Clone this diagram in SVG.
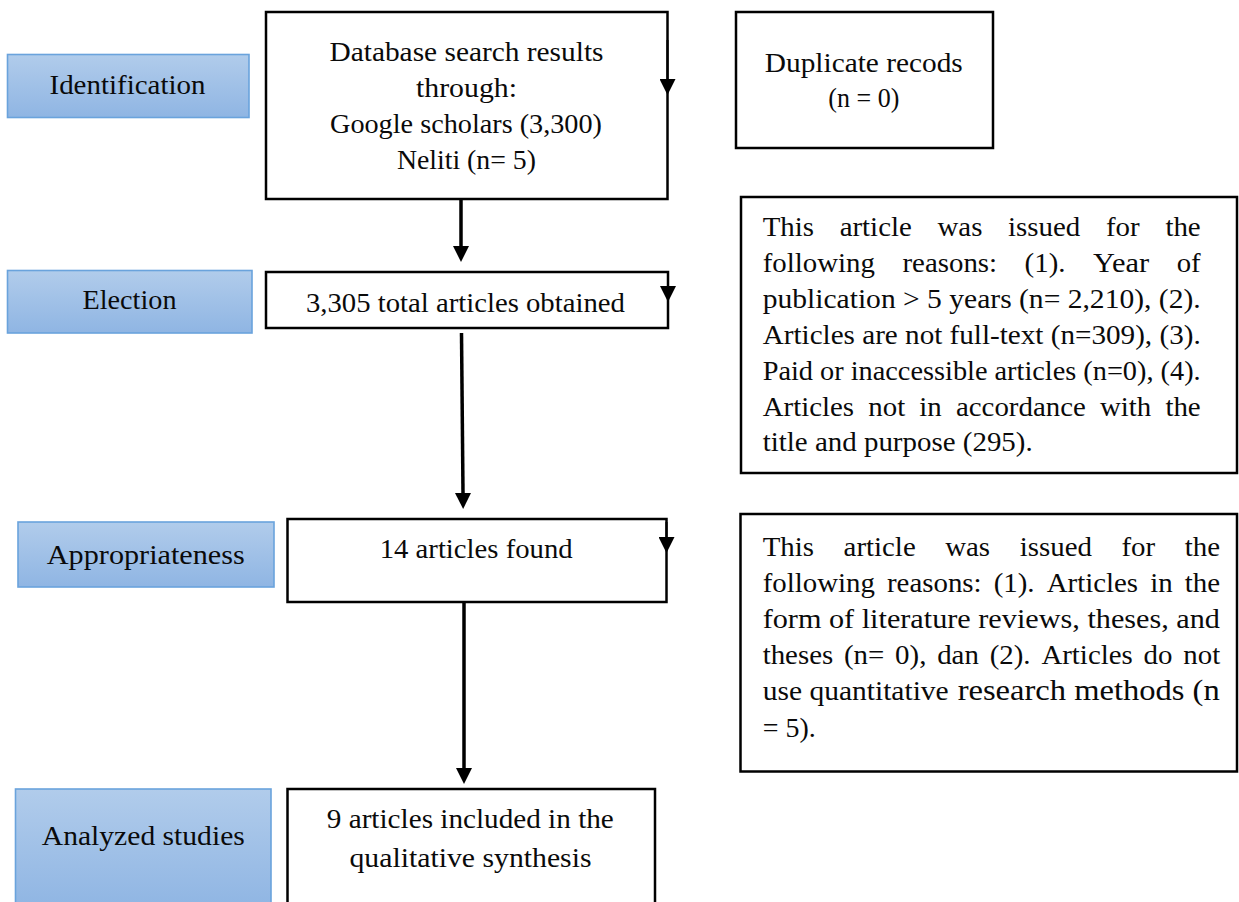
<svg xmlns="http://www.w3.org/2000/svg" width="1239" height="902" viewBox="0 0 1239 902">
<defs>
<linearGradient id="blue" x1="0" y1="0" x2="0" y2="1">
<stop offset="0" stop-color="#b1cceb"/>
<stop offset="1" stop-color="#8fb5e3"/>
</linearGradient>
<marker id="ah" viewBox="0 0 16 16" refX="0" refY="8" markerWidth="16" markerHeight="16" markerUnits="userSpaceOnUse" orient="auto">
<path d="M0,0 L16,8 L0,16 Z" fill="#000"/>
</marker>
</defs>
<style>
.lab{fill:url(#blue);stroke:#6aa3dc;stroke-width:1.6}
.box{fill:#fff;stroke:#000;stroke-width:2.5}
text{font-family:"Liberation Serif","Times New Roman",serif;font-size:27.5px;fill:#0a0a0a}
.c{text-anchor:middle}
.conn{fill:none;stroke:#000;stroke-width:3.5}
.edge{fill:none;stroke:#000;stroke-width:2}
</style>

<g id="label-identification">
<rect class="lab" x="7.5" y="54.5" width="241.5" height="63"/>
<text class="c" x="127.5" y="94" textLength="156" lengthAdjust="spacingAndGlyphs">Identification</text>
</g>
<g id="label-election">
<rect class="lab" x="7.5" y="270.5" width="244.5" height="62.5"/>
<text class="c" x="129.5" y="308.5" textLength="94" lengthAdjust="spacingAndGlyphs">Election</text>
</g>
<g id="label-appropriateness">
<rect class="lab" x="18" y="522" width="256" height="65"/>
<text class="c" x="145.8" y="564" textLength="198" lengthAdjust="spacingAndGlyphs">Appropriateness</text>
</g>
<g id="label-analyzed">
<rect class="lab" x="15.5" y="789" width="255.5" height="120"/>
<text class="c" x="143.3" y="845" textLength="203" lengthAdjust="spacingAndGlyphs">Analyzed studies</text>
</g>

<g id="node-search">
<rect class="box" x="266" y="12" width="401.5" height="187"/>
<text class="c" x="466.5" y="61" textLength="274" lengthAdjust="spacingAndGlyphs">Database search results</text>
<text class="c" x="466.5" y="97" textLength="101" lengthAdjust="spacingAndGlyphs">through:</text>
<text class="c" x="466" y="132.5" textLength="272" lengthAdjust="spacingAndGlyphs">Google scholars (3,300)</text>
<text class="c" x="466.4" y="168.5" textLength="139" lengthAdjust="spacingAndGlyphs">Neliti (n= 5)</text>
</g>

<g id="node-duplicate">
<rect class="box" x="736" y="12" width="257" height="136"/>
<text class="c" x="863.8" y="72" textLength="198" lengthAdjust="spacingAndGlyphs">Duplicate recods</text>
<text class="c" x="863.8" y="107" textLength="71" lengthAdjust="spacingAndGlyphs">(n = 0)</text>
</g>

<g id="node-total">
<rect class="box" x="266" y="272" width="402" height="56"/>
<text class="c" x="465.4" y="311.5" textLength="319" lengthAdjust="spacingAndGlyphs">3,305 total articles obtained</text>
</g>

<g id="node-excluded1">
<rect class="box" x="741" y="197" width="496" height="276"/>
<text x="762.7" y="236" textLength="51.3" lengthAdjust="spacingAndGlyphs">This</text>
<text x="839.7" y="236" textLength="72.1" lengthAdjust="spacingAndGlyphs">article</text>
<text x="937.5" y="236" textLength="44.9" lengthAdjust="spacingAndGlyphs">was</text>
<text x="1008.1" y="236" textLength="72.2" lengthAdjust="spacingAndGlyphs">issued</text>
<text x="1106" y="236" textLength="33.7" lengthAdjust="spacingAndGlyphs">for</text>
<text x="1165.4" y="236" textLength="35.3" lengthAdjust="spacingAndGlyphs">the</text>
<text x="762.7" y="271.9" textLength="112.2" lengthAdjust="spacingAndGlyphs">following</text>
<text x="902.5" y="271.9" textLength="94.6" lengthAdjust="spacingAndGlyphs">reasons:</text>
<text x="1024.6" y="271.9" textLength="40.9" lengthAdjust="spacingAndGlyphs">(1).</text>
<text x="1093" y="271.9" textLength="56.1" lengthAdjust="spacingAndGlyphs">Year</text>
<text x="1176.7" y="271.9" textLength="24" lengthAdjust="spacingAndGlyphs">of</text>
<text x="762.7" y="307.8" textLength="438" lengthAdjust="spacingAndGlyphs">publication &gt; 5 years (n= 2,210), (2).</text>
<text x="762.7" y="343.7" textLength="438" lengthAdjust="spacingAndGlyphs">Articles are not full-text (n=309), (3).</text>
<text x="762.7" y="379.6" textLength="438" lengthAdjust="spacingAndGlyphs">Paid or inaccessible articles (n=0), (4).</text>
<text x="762.7" y="415.5" textLength="91.4" lengthAdjust="spacingAndGlyphs">Articles</text>
<text x="868.3" y="415.5" textLength="36.9" lengthAdjust="spacingAndGlyphs">not</text>
<text x="919.3" y="415.5" textLength="22.5" lengthAdjust="spacingAndGlyphs">in</text>
<text x="956" y="415.5" textLength="129.8" lengthAdjust="spacingAndGlyphs">accordance</text>
<text x="1099.9" y="415.5" textLength="51.3" lengthAdjust="spacingAndGlyphs">with</text>
<text x="1165.4" y="415.5" textLength="35.3" lengthAdjust="spacingAndGlyphs">the</text>
<text x="762.7" y="451.4" textLength="270" lengthAdjust="spacingAndGlyphs">title and purpose (295).</text>
</g>

<g id="node-found">
<rect class="box" x="287.5" y="519" width="379" height="83"/>
<text class="c" x="476.2" y="558.3" textLength="193" lengthAdjust="spacingAndGlyphs">14 articles found</text>
</g>

<g id="node-excluded2">
<rect class="box" x="740.5" y="514" width="496.5" height="257.5"/>
<text x="762.7" y="556" textLength="51.3" lengthAdjust="spacingAndGlyphs">This</text>
<text x="843.6" y="556" textLength="72.1" lengthAdjust="spacingAndGlyphs">article</text>
<text x="945.2" y="556" textLength="44.9" lengthAdjust="spacingAndGlyphs">was</text>
<text x="1019.7" y="556" textLength="72.2" lengthAdjust="spacingAndGlyphs">issued</text>
<text x="1121.5" y="556" textLength="33.7" lengthAdjust="spacingAndGlyphs">for</text>
<text x="1184.7" y="556" textLength="35.3" lengthAdjust="spacingAndGlyphs">the</text>
<text x="762.7" y="592.1" textLength="112.2" lengthAdjust="spacingAndGlyphs">following</text>
<text x="887" y="592.1" textLength="94.6" lengthAdjust="spacingAndGlyphs">reasons:</text>
<text x="993.7" y="592.1" textLength="40.9" lengthAdjust="spacingAndGlyphs">(1).</text>
<text x="1046.7" y="592.1" textLength="91.4" lengthAdjust="spacingAndGlyphs">Articles</text>
<text x="1150.2" y="592.1" textLength="22.5" lengthAdjust="spacingAndGlyphs">in</text>
<text x="1184.7" y="592.1" textLength="35.3" lengthAdjust="spacingAndGlyphs">the</text>
<text x="762.7" y="628.2" textLength="457.3" lengthAdjust="spacingAndGlyphs">form of literature reviews, theses, and</text>
<text x="762.7" y="664.3" textLength="70.5" lengthAdjust="spacingAndGlyphs">theses</text>
<text x="844" y="664.3" textLength="40.3" lengthAdjust="spacingAndGlyphs">(n=</text>
<text x="895.1" y="664.3" textLength="31.3" lengthAdjust="spacingAndGlyphs">0),</text>
<text x="937.2" y="664.3" textLength="41.7" lengthAdjust="spacingAndGlyphs">dan</text>
<text x="989.7" y="664.3" textLength="40.9" lengthAdjust="spacingAndGlyphs">(2).</text>
<text x="1041.4" y="664.3" textLength="91.4" lengthAdjust="spacingAndGlyphs">Articles</text>
<text x="1143.6" y="664.3" textLength="28.9" lengthAdjust="spacingAndGlyphs">do</text>
<text x="1183.3" y="664.3" textLength="36.9" lengthAdjust="spacingAndGlyphs">not</text>
<text x="762.7" y="700.4" textLength="186" lengthAdjust="spacingAndGlyphs">use quantitative</text>
<text x="957.7" y="700.4" style="font-size:30px" textLength="262" lengthAdjust="spacingAndGlyphs">research methods (n</text>
<text x="762.7" y="736.5" textLength="53" lengthAdjust="spacingAndGlyphs">= 5).</text>
</g>

<g id="node-included">
<rect class="box" x="287.5" y="789" width="367.5" height="120"/>
<text class="c" x="470.3" y="828.3" textLength="287" lengthAdjust="spacingAndGlyphs">9 articles included in the</text>
<text class="c" x="470.5" y="867.3" textLength="242" lengthAdjust="spacingAndGlyphs">qualitative synthesis</text>
</g>

<g id="connectors">
<path class="conn" d="M461,199 L461,246" marker-end="url(#ah)"/>
<path class="conn" d="M461.5,333 L463,493" marker-end="url(#ah)"/>
<path class="conn" d="M464,602 L464,768" marker-end="url(#ah)"/>
<path class="edge" d="M667.5,40 L667.5,79" marker-end="url(#ah)"/>
<path class="edge" d="M668,276 L668,286" marker-end="url(#ah)"/>
<path class="edge" d="M666.5,522 L666.5,537" marker-end="url(#ah)"/>
</g>
</svg>
